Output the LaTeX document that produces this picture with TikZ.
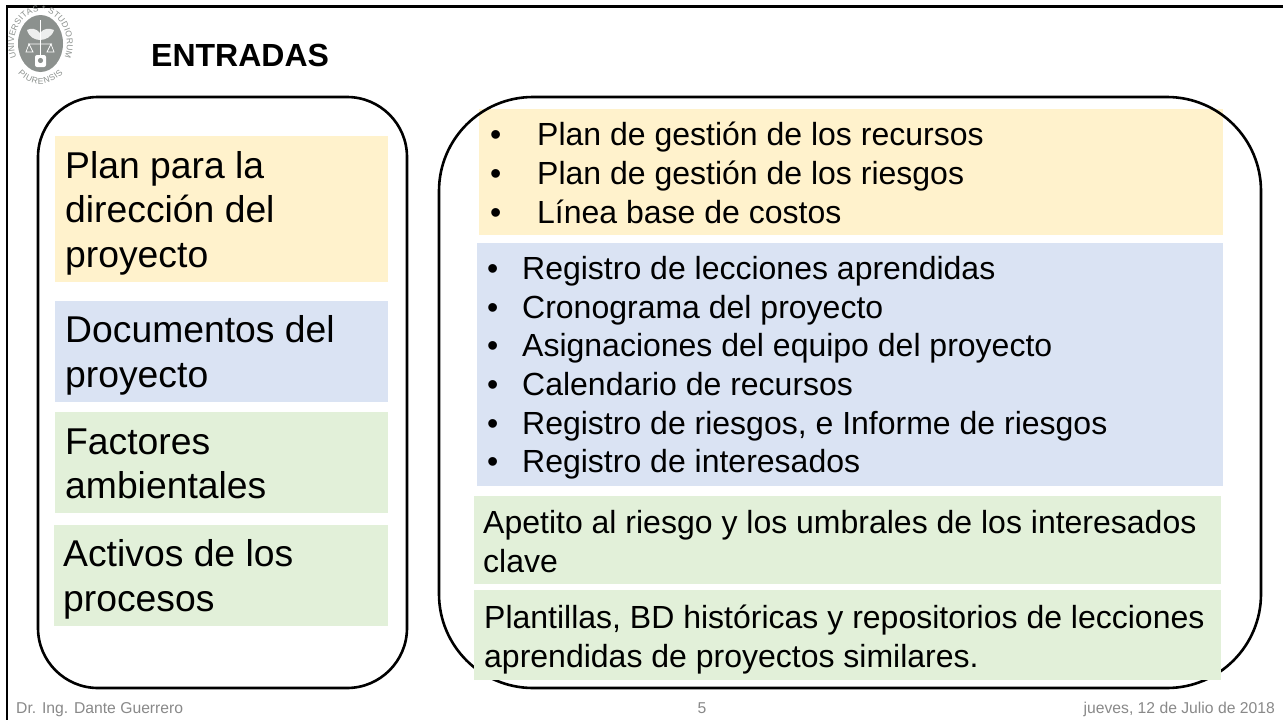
\documentclass[tikz,border=0pt]{standalone}
\usepackage{fontspec}
\setmainfont{Liberation Sans}
\usetikzlibrary{decorations.text}
\definecolor{orangefill}{HTML}{FFF2CC}
\definecolor{bluefill}{HTML}{DAE3F3}
\definecolor{greenfill}{HTML}{E2F0D9}
\definecolor{footgray}{HTML}{898989}
\definecolor{sealgray}{HTML}{8C918E}
\newcommand{\bl}[2]{\makebox[#1][l]{•}#2}
\tikzset{
  x=1pt,y=-1pt,
  frameline/.style={line width=2.2pt,black},
  roundedpanel/.style={draw=black,line width=2.6pt,outer sep=0pt,inner sep=0pt,anchor=north west},
  bigtext/.style={anchor=north west,inner sep=0pt,align=left,font=\fontsize{37.3}{44.6}\selectfont},
  listtext/.style={anchor=north west,inner sep=0pt,align=left,font=\fontsize{32}{38.7}\selectfont},
  foot/.style={inner sep=0pt,text=footgray,font=\fontsize{15.7}{18}\selectfont,anchor=base}
}
\begin{document}
\begin{tikzpicture}
\useasboundingbox (0,0) rectangle (1283,720);
\fill[white] (0,0) rectangle (1283,720);
% frame
\coordinate (fa) at (1283,6.5);
\coordinate (fb) at (7,6.5);
\coordinate (fc) at (7,720);
\draw[frameline] (fa) -- (fb) -- (fc);
% seal
\fill[sealgray] (40.5,43.5) ellipse [x radius=22.5,y radius=28.5];
\fill[white,opacity=.85] (40,33) .. controls (36,28) and (31,28) .. (27,30) .. controls (29,37) and (35,40) .. (40,40) .. controls (45,40) and (52,37) .. (54,30) .. controls (49,28) and (44,28) .. (40,33) -- cycle;
\draw[white,line width=1pt] (40,20) -- (40,62);
\draw[white,line width=0.7pt] (28,44) -- (52,44) (29,44) -- (26,52) -- (33,52) -- cycle (51,44) -- (47,52) -- (54,52) -- cycle;
\fill[white,rounded corners=2pt] (35,55) rectangle (46,67);
\fill[sealgray] (40.5,60.5) circle (2.6);
\path[decorate,decoration={text along path,text align=fit to path,
  text={|\fontsize{8.5}{9}\selectfont\color{sealgray}|UNIVERSITAS * STUDIORUM}}]
  (16.5,57.7) .. controls (14.8,53.5) and (14,48.8) .. (14,44)
  .. controls (14,26) and (26,11.5) .. (40.5,11.5)
  .. controls (55,11.5) and (67,26) .. (67,44)
  .. controls (67,48.8) and (66.2,53.5) .. (64.5,57.7);
\path[decorate,decoration={text along path,text align=fit to path,
  text={|\fontsize{8.5}{9}\selectfont\color{sealgray}|PIURENSIS}}]
  (18,73) .. controls (24,80) and (33,84) .. (40.5,84)
  .. controls (48,84) and (57,80) .. (63,73);
% title
\node[inner sep=0pt,anchor=base west,font=\bfseries\fontsize{32}{36}\selectfont] (title) at (151,66.5) {ENTRADAS};
% panels under
\fill[orangefill] (479,109) rectangle (1223,235);
\fill[bluefill] (477,243) rectangle (1223,486);
\node[roundedpanel,rounded corners=60pt,minimum width=369pt,minimum height=591pt] (panelL) at (38,97) {};
\node[roundedpanel,rounded corners=94pt,minimum width=822pt,minimum height=591pt] (panelR) at (439,97) {};
% left boxes
\fill[orangefill] (55,136) rectangle (388,282);
\fill[bluefill] (55,301) rectangle (388,402);
\fill[greenfill] (55,412) rectangle (388,513);
\fill[greenfill] (54,525) rectangle (388,626);
% right green
\fill[greenfill] (474,496) rectangle (1221,584);
\fill[greenfill] (474,590) rectangle (1221,680);
% left text
\node[bigtext] (l1) at (65,151) {Plan para la\\dirección del\\proyecto};
\node[bigtext] (l2) at (65,315.5) {Documentos del\\proyecto};
\node[bigtext] (l3) at (65,428.5) {Factores\\ambientales};
\node[bigtext] (l4) at (63,539.5) {Activos de los\\procesos};
% right text
\node[listtext] (r1) at (490,122) {\bl{47pt}{Plan de gestión de los recursos}\\\bl{47pt}{Plan de gestión de los riesgos}\\\bl{47pt}{Línea base de costos}};
\node[listtext] (r2) at (487,256) {\bl{35pt}{Registro de lecciones aprendidas}\\\bl{35pt}{Cronograma del proyecto}\\\bl{35pt}{Asignaciones del equipo del proyecto}\\\bl{35pt}{Calendario de recursos}\\\bl{35pt}{Registro de riesgos, e Informe de riesgos}\\\bl{35pt}{Registro de interesados}};
\node[listtext] (r3) at (483,510) {Apetito al riesgo y los umbrales de los interesados\\clave};
\node[listtext] (r4) at (484,605) {Plantillas, BD históricas y repositorios de lecciones\\aprendidas de proyectos similares.};
% footer
\node[foot,anchor=base west] (f1) at (16,713) {Dr. Ing. Dante Guerrero};
\node[foot] (f2) at (702,713) {5};
\node[foot,anchor=base east] (f3) at (1275,713) {jueves, 12 de Julio de 2018};
\end{tikzpicture}
\end{document}
